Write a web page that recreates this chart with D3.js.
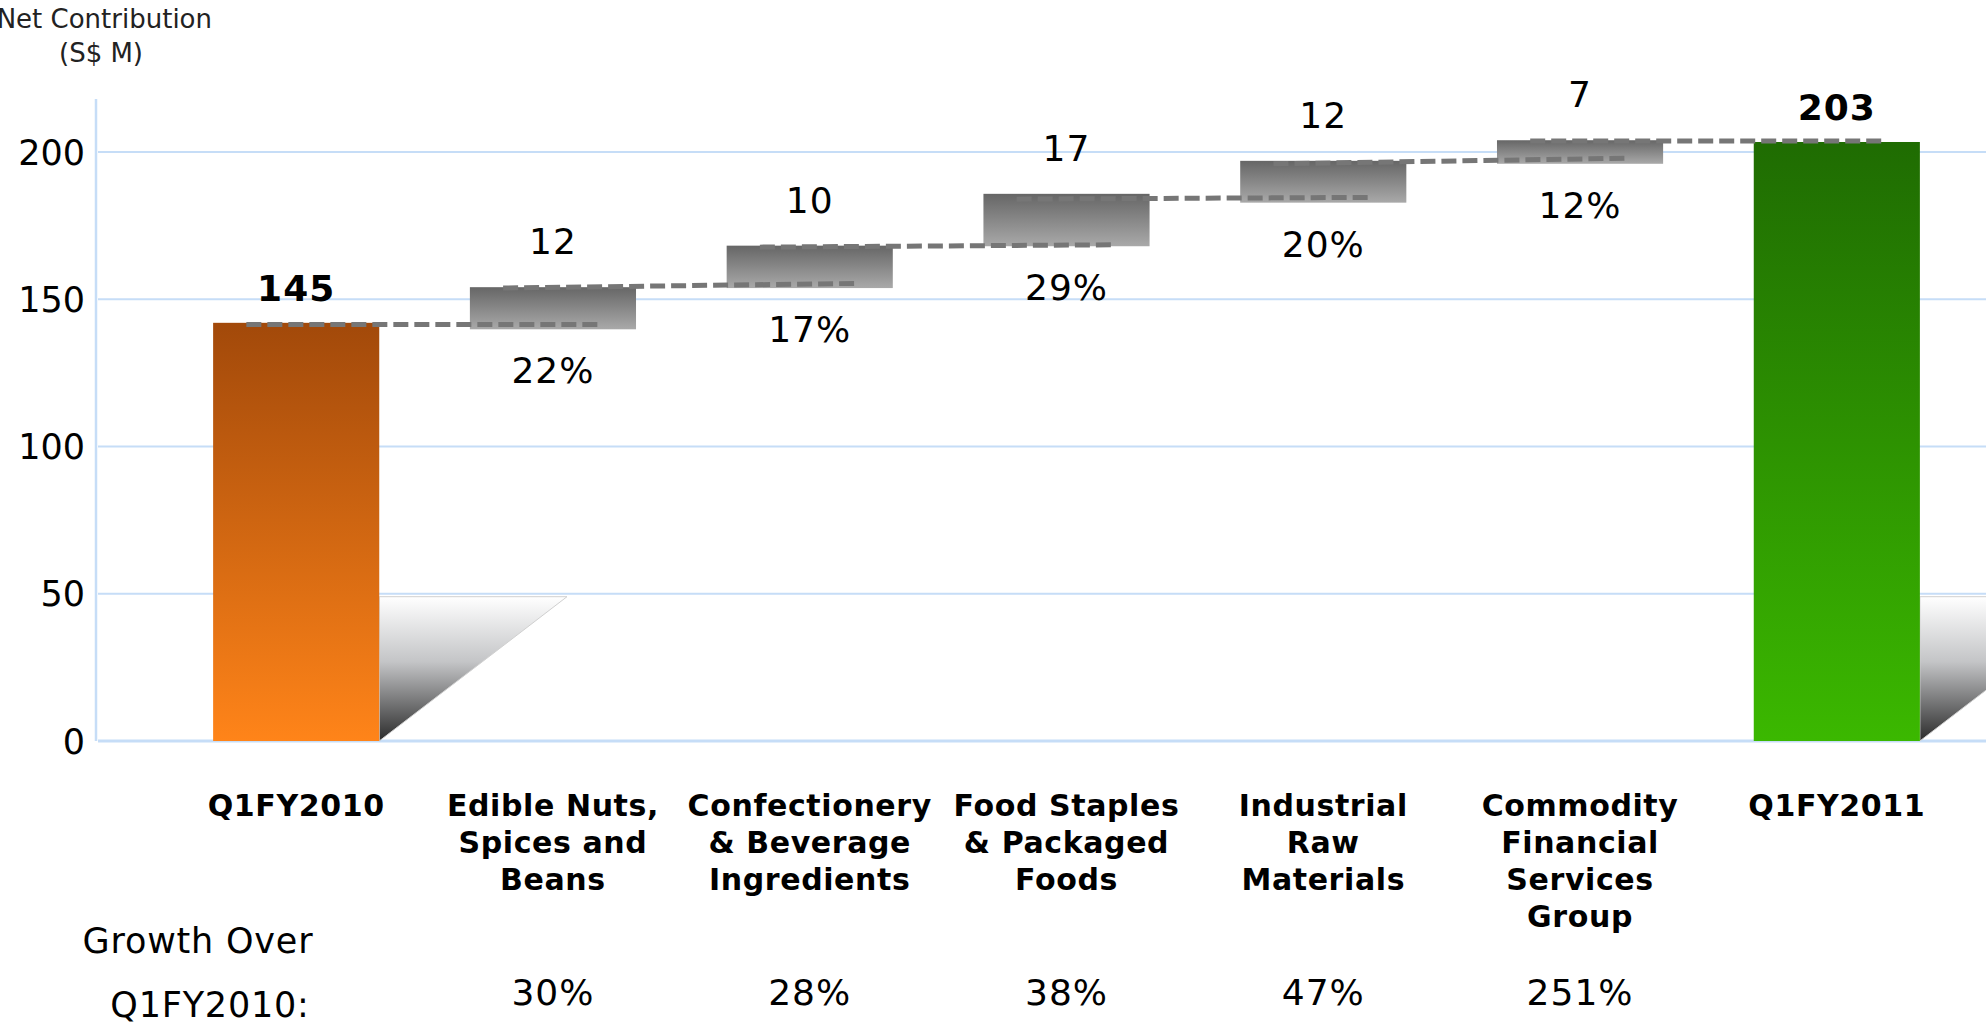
<!DOCTYPE html>
<html>
<head>
<meta charset="utf-8">
<script src="https://cdn.jsdelivr.net/npm/d3@7"></script>
<style>
  html, body { margin:0; padding:0; background:#fff; overflow:hidden; }
  svg { display:block; font-family:"DejaVu Sans", Verdana, sans-serif; }
</style>
</head>
<body>
<svg id="chart" width="1986" height="1026"></svg>
<script>
// category names (one entry per line of the axis label)
const categories = ['Q1FY2010','Edible Nuts','Confectionery','Food Staples','Industrial','CFSG','Q1FY2011'];
const categoryLines = [
  ['Q1FY2010'],
  ['Edible Nuts,','Spices and','Beans'],
  ['Confectionery','& Beverage','Ingredients'],
  ['Food Staples','& Packaged','Foods'],
  ['Industrial','Raw','Materials'],
  ['Commodity','Financial','Services','Group'],
  ['Q1FY2011']
];
// bar extents as drawn (S$ M)
const barLow  = [0, 139.8, 153.8, 168.0, 182.8, 196.0, 0];
const barHigh = [142, 154.1, 168.2, 185.8, 197.0, 204.0, 203.4];
// printed values
const valueLabels  = ['145','12','10','17','12','7','203'];
const shareLabels  = ['','22%','17%','29%','20%','12%',''];
const growthLabels = ['','30%','28%','38%','47%','251%',''];
// dashed step connectors: level leaving bar i, level arriving in bar i+1
const stepFrom = [141.4, 153.8, 167.7, 184.0, 196.0, 203.7];
const stepTo   = [141.4, 155.4, 168.5, 184.6, 197.9, 203.7];
const yTicks = [0, 50, 100, 150, 200];

const svg = d3.select('#chart');
const W = 1986;

const x = d3.scaleBand().domain(categories).range([95, 2038]).paddingInner(0.353).paddingOuter(0.46);
const y = d3.scaleLinear().domain([0, 218]).range([741, 99]);
const bw = x.bandwidth();

const defs = svg.append('defs');
function vGrad(id, stops){
  const g = defs.append('linearGradient').attr('id', id).attr('x1',0).attr('y1',0).attr('x2',0).attr('y2',1);
  stops.forEach(s => g.append('stop').attr('offset', s[0]).attr('stop-color', s[1]));
}
vGrad('gOrange', [[0,'#a2490a'],[1,'#ff8419']]);
vGrad('gGreen',  [[0,'#1f6c02'],[1,'#3bb800']]);
vGrad('gGray',   [[0,'#666666'],[1,'#a9a9a9']]);
vGrad('gShadow', [[0,'#ffffff'],[0.45,'#c4c5c7'],[1,'#2b2b2b']]);

// gridlines
svg.append('g').selectAll('line').data(yTicks).enter().append('line')
  .attr('x1', 98).attr('x2', W)
  .attr('y1', d => y(d)).attr('y2', d => y(d))
  .attr('stroke', '#c6ddf7').attr('stroke-width', d => d === 0 ? 3 : 2.2);

// y axis line
svg.append('line').attr('x1', 96).attr('x2', 96).attr('y1', y(218)).attr('y2', y(0))
  .attr('stroke', '#c6ddf7').attr('stroke-width', 2.5);

// tick labels
svg.append('g').selectAll('text').data(yTicks).enter().append('text')
  .attr('x', 85).attr('y', d => y(d)).attr('dy', '0.36em')
  .attr('text-anchor', 'end').attr('font-size', 35).attr('fill', '#000')
  .text(d => d);

// axis title (clipped at the left edge, as in the slide)
svg.append('text').attr('x', 212).attr('y', 28).attr('text-anchor', 'end')
  .attr('font-size', 26).attr('fill', '#222').text('Net Contribution');
svg.append('text').attr('x', 101).attr('y', 62).attr('text-anchor', 'middle')
  .attr('font-size', 26).attr('fill', '#222').text('(S$ M)');

const isTotal = i => i === 0 || i === categories.length - 1;

// shadows behind total bars
const shadowW = bw * 1.13, shadowTop = 49;
svg.append('g').selectAll('path').data(categories.filter((c,i) => isTotal(i))).enter().append('path')
  .attr('d', c => {
    const x0 = x(c) + bw;
    return `M${x0},${y(shadowTop)}L${x0 + shadowW},${y(shadowTop)}L${x0},${y(0)}Z`;
  })
  .attr('fill', 'url(#gShadow)')
  .attr('stroke', '#d0d0d0').attr('stroke-width', 1);

// bars
svg.append('g').selectAll('rect').data(categories).enter().append('rect')
  .attr('x', c => x(c)).attr('width', bw)
  .attr('y', (c,i) => y(barHigh[i]))
  .attr('height', (c,i) => y(barLow[i]) - y(barHigh[i]))
  .attr('fill', (c,i) => i === 0 ? 'url(#gOrange)' : (i === categories.length - 1 ? 'url(#gGreen)' : 'url(#gGray)'));

// dashed connectors
svg.append('g').selectAll('line').data(stepFrom).enter().append('line')
  .attr('x1', (d,i) => x(categories[i]) + bw * 0.2)
  .attr('x2', (d,i) => x(categories[i+1]) + bw * 0.8)
  .attr('y1', d => y(d))
  .attr('y2', (d,i) => y(stepTo[i]))
  .attr('stroke', '#767676').attr('stroke-width', 5).attr('stroke-dasharray', '15,6');

// value labels above bars
svg.append('g').selectAll('text').data(valueLabels).enter().append('text')
  .attr('x', (d,i) => x(categories[i]) + bw / 2)
  .attr('y', (d,i) => y(barHigh[i]) - (isTotal(i) ? 22 : 33))
  .attr('text-anchor', 'middle').attr('font-size', 36).attr('letter-spacing', 1)
  .attr('font-weight', (d,i) => isTotal(i) ? 'bold' : 'normal')
  .attr('fill', '#000').text(d => d);

// share labels below increments
svg.append('g').selectAll('text').data(shareLabels).enter().append('text')
  .attr('x', (d,i) => x(categories[i]) + bw / 2)
  .attr('y', (d,i) => y(barLow[i]) + 54)
  .attr('text-anchor', 'middle').attr('font-size', 36).attr('letter-spacing', 1).attr('fill', '#000')
  .text(d => d);

// category labels
const catG = svg.append('g').selectAll('text').data(categoryLines).enter().append('text')
  .attr('text-anchor', 'middle').attr('font-size', 30).attr('letter-spacing', 0.6)
  .attr('font-weight', 'bold').attr('fill', '#000');
catG.selectAll('tspan').data((lines,i) => lines.map(l => ({ l, i }))).enter().append('tspan')
  .attr('x', d => x(categories[d.i]) + bw / 2)
  .attr('y', (d,j) => 816 + j * 37)
  .text(d => d.l);

// growth row
svg.append('text').attr('x', 198).attr('y', 953).attr('text-anchor', 'middle')
  .attr('font-size', 35).attr('letter-spacing', 0.8).attr('fill', '#000').text('Growth Over');
svg.append('text').attr('x', 210).attr('y', 1017).attr('text-anchor', 'middle')
  .attr('font-size', 35).attr('letter-spacing', 0.8).attr('fill', '#000').text('Q1FY2010:');
svg.append('g').selectAll('text').data(growthLabels).enter().append('text')
  .attr('x', (d,i) => x(categories[i]) + bw / 2)
  .attr('y', 1005).attr('text-anchor', 'middle').attr('font-size', 36).attr('letter-spacing', 1).attr('fill', '#000')
  .text(d => d);
</script>
</body>
</html>
